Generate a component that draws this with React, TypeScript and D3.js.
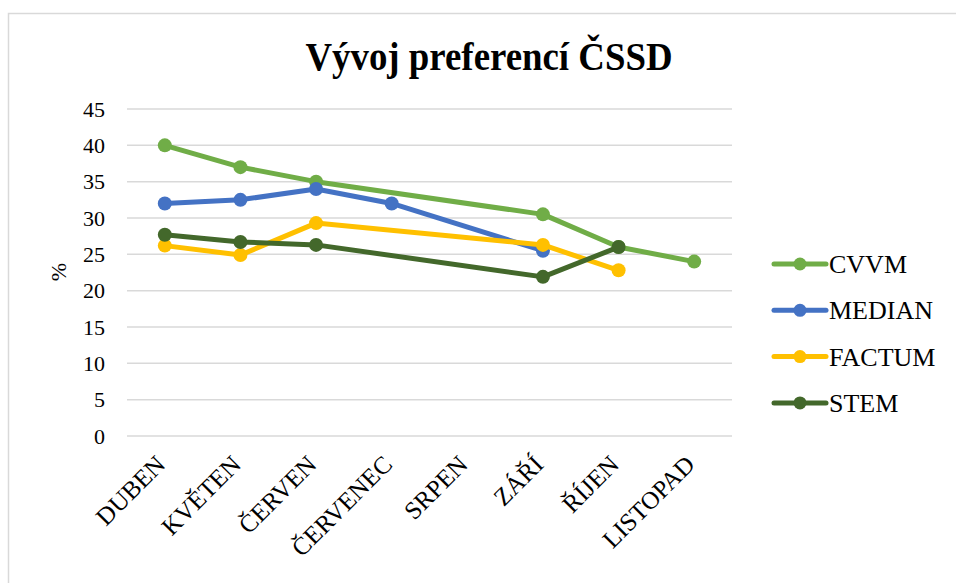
import React from 'react'
import * as d3 from 'd3'

const categories = ['DUBEN', 'KVĚTEN', 'ČERVEN', 'ČERVENEC', 'SRPEN', 'ZÁŘÍ', 'ŘÍJEN', 'LISTOPAD']
const seriesNames = ['CVVM', 'MEDIAN', 'FACTUM', 'STEM']
const seriesColors = ['#70ad47', '#4472c4', '#ffc000', '#43682b']
const cvvm = [40, 37, 35, null, null, 30.5, 26, 24]
const median = [32, 32.5, 34, 32, null, 25.5, null, null]
const factum = [26.2, 24.9, 29.3, null, null, 26.3, 22.8, null]
const stem = [27.7, 26.7, 26.3, null, null, 21.9, 26, null]
const yTicks = [0, 5, 10, 15, 20, 25, 30, 35, 40, 45]

const W = 956
const H = 583
const serif = { fontFamily: 'Liberation Serif' }

const x = d3.scaleBand().domain(categories).range([127, 732])
const y = d3.scaleLinear().domain([0, 45]).range([436, 109])
const cx = (i) => x(categories[i]) + x.bandwidth() / 2

const App = () => {
  const all = [cvvm, median, factum, stem]
  return (
    <div style={{ position: 'absolute', left: 0, top: 0 }}>
      <svg width={W} height={H} style={{ display: 'block' }}>
        {/* frame */}
        <rect x={8.5} y={13.5} width={W} height={H} fill="white" stroke="#d9d9d9" strokeWidth={1.5} />

        <text x={489} y={70} textAnchor="middle" textLength={367} lengthAdjust="spacingAndGlyphs"
          style={{ ...serif, fontSize: 40, fontWeight: 'bold' }}>
          Vývoj preferencí ČSSD
        </text>

        {/* grid + y ticks */}
        {yTicks.map((t) => (
          <g key={t}>
            <line x1={127} x2={732} y1={y(t)} y2={y(t)} stroke="#d9d9d9" strokeWidth={1.5} />
            <text x={105} y={y(t)} dy="0.35em" textAnchor="end" style={{ ...serif, fontSize: 22 }}>{t}</text>
          </g>
        ))}

        <text transform="translate(66,272) rotate(-90)" textAnchor="middle" style={{ ...serif, fontSize: 22 }}>%</text>

        {/* x labels */}
        {categories.map((c) => (
          <text key={c} textAnchor="end"
            transform={`translate(${x(c) + x.bandwidth() / 2 + 2},466) rotate(-45)`}
            style={{ ...serif, fontSize: 25 }}>{c}</text>
        ))}

        {/* series */}
        {all.map((vals, s) => {
          const pts = vals.map((v, i) => ({ v, i })).filter((p) => p.v != null)
          const line = d3.line().x((p) => cx(p.i)).y((p) => y(p.v))
          return (
            <g key={s}>
              <path d={line(pts)} fill="none" stroke={seriesColors[s]} strokeWidth={5}
                strokeLinejoin="round" strokeLinecap="round" />
              {pts.map((p) => (
                <circle key={p.i} cx={cx(p.i)} cy={y(p.v)} r={7} fill={seriesColors[s]} />
              ))}
            </g>
          )
        })}

        {/* legend */}
        {seriesNames.map((name, s) => {
          const ly = 264 + s * 46.3
          return (
            <g key={name}>
              <line x1={774} x2={826} y1={ly} y2={ly} stroke={seriesColors[s]} strokeWidth={5} strokeLinecap="round" />
              <circle cx={800} cy={ly} r={6.5} fill={seriesColors[s]} />
              <text x={829} y={ly + 9} style={{ ...serif, fontSize: 26 }}>{name}</text>
            </g>
          )
        })}
      </svg>
    </div>
  )
}

export default App
